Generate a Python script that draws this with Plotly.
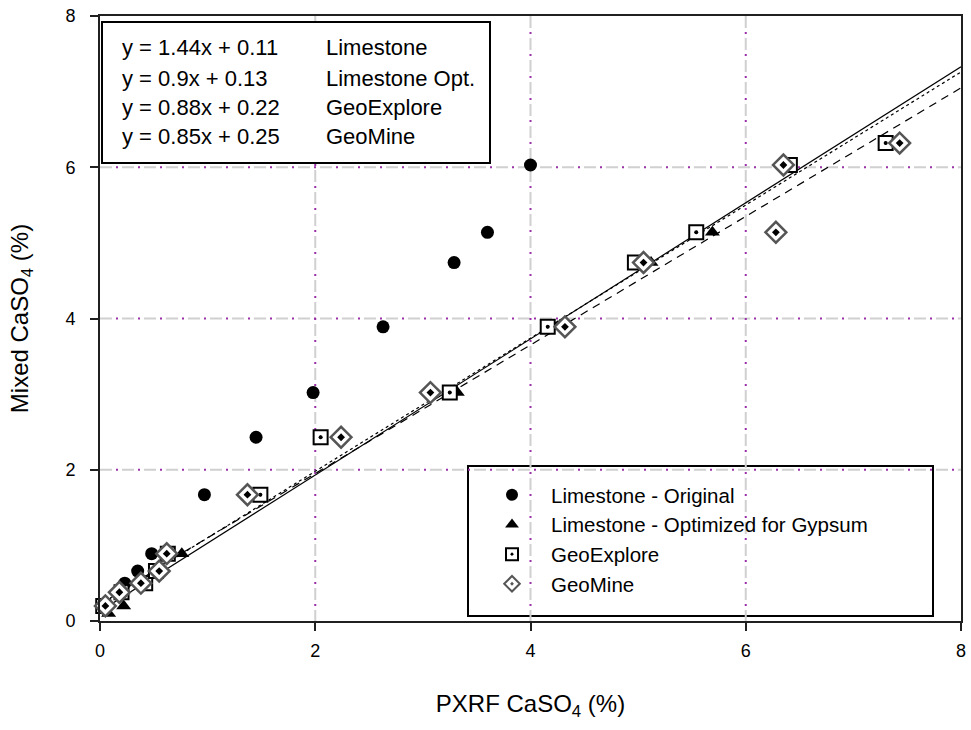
import plotly.graph_objects as go

# ---------------- data ----------------
lime_orig_x = [0.02, 0.23, 0.35, 0.48, 0.97, 1.45, 1.98, 2.63, 3.29, 3.60, 4.00]
lime_orig_y = [0.20, 0.50, 0.66, 0.89, 1.67, 2.43, 3.02, 3.89, 4.74, 5.14, 6.03]

lime_opt_x = [0.08, 0.22, 0.76, 3.32, 4.25, 5.12, 5.69]
lime_opt_y = [0.10, 0.20, 0.89, 3.02, 3.89, 4.74, 5.14]

geoexp_x = [0.03, 0.20, 0.42, 0.52, 0.63, 1.49, 2.05, 3.25, 4.16, 4.97, 5.54, 6.41, 7.30]
geoexp_y = [0.20, 0.38, 0.50, 0.66, 0.89, 1.67, 2.43, 3.02, 3.89, 4.74, 5.14, 6.03, 6.32]

geomine_x = [0.05, 0.18, 0.38, 0.55, 0.62, 1.37, 2.24, 3.07, 4.32, 5.05, 6.28, 6.35, 7.43]
geomine_y = [0.20, 0.38, 0.50, 0.66, 0.89, 1.67, 2.43, 3.02, 3.89, 4.74, 5.14, 6.03, 6.32]

# regression lines (slope, intercept) as given in the equation box
fit_names = ["Limestone", "Limestone Opt.", "GeoExplore", "GeoMine"]
fit_slopes = [1.44, 0.9, 0.88, 0.85]
fit_intercepts = [0.11, 0.13, 0.22, 0.25]
fit_labels = ["y = 1.44x + 0.11", "y = 0.9x + 0.13", "y = 0.88x + 0.22", "y = 0.85x + 0.25"]
line_x = [0, 8]

tick_vals = [0, 2, 4, 6, 8]

FONT = "Arial, 'Liberation Sans', sans-serif"

fig = go.Figure()

# regression lines (Limestone original fit is not drawn in the chart)
line_styles = {1: "solid", 2: "dot", 3: "8px,6px"}
for i, dash in line_styles.items():
    fig.add_trace(go.Scatter(
        x=line_x, y=[fit_slopes[i] * v + fit_intercepts[i] for v in line_x],
        mode="lines", line=dict(color="black", width=1.2, dash=dash),
        showlegend=False, hoverinfo="skip"))

fig.add_trace(go.Scatter(
    x=lime_orig_x, y=lime_orig_y, mode="markers", name="Limestone - Original",
    marker=dict(symbol="circle", size=13, color="black"), cliponaxis=False))
fig.add_trace(go.Scatter(
    x=lime_opt_x, y=lime_opt_y, mode="markers", name="Limestone - Optimized for Gypsum",
    marker=dict(symbol="triangle-up", size=13, color="black"), cliponaxis=False))
fig.add_trace(go.Scatter(
    x=geoexp_x, y=geoexp_y, mode="markers", name="GeoExplore",
    marker=dict(symbol="square-dot", size=14, color="white",
                line=dict(color="black", width=2)), cliponaxis=False))
fig.add_trace(go.Scatter(
    x=geoexp_x, y=geoexp_y, mode="markers", showlegend=False, hoverinfo="skip",
    marker=dict(symbol="circle", size=4, color="black"), cliponaxis=False))
fig.add_trace(go.Scatter(
    x=geomine_x, y=geomine_y, mode="markers", name="GeoMine",
    marker=dict(symbol="diamond-dot", size=16, color="white",
                line=dict(color="#555555", width=2.5)), cliponaxis=False))
fig.add_trace(go.Scatter(
    x=geomine_x, y=geomine_y, mode="markers", showlegend=False, hoverinfo="skip",
    marker=dict(symbol="diamond", size=6, color="black"), cliponaxis=False))

# gridlines: grey dashes with purple dots in the gaps
shapes = []
for v in [2, 4, 6]:
    for color, dash, w in [("#d0d0d0", "12px,10px", 2), ("#9a2fa8", "0px,16px,2px,4px", 2)]:
        shapes.append(dict(type="line", xref="x", yref="y", x0=0, x1=8, y0=v, y1=v,
                           line=dict(color=color, width=w, dash=dash), layer="below"))
        shapes.append(dict(type="line", xref="x", yref="y", x0=v, x1=v, y0=8, y1=0,
                           line=dict(color=color, width=w, dash=dash), layer="below"))

# equation box
shapes.append(dict(type="rect", xref="paper", yref="paper",
                   x0=(102 - 100) / 861, x1=(490 - 100) / 861,
                   y0=(621 - 163) / 605, y1=(621 - 22) / 605,
                   line=dict(color="black", width=2), fillcolor="white", layer="above"))
# legend frame
shapes.append(dict(type="rect", xref="paper", yref="paper",
                   x0=(468 - 100) / 861, x1=(933 - 100) / 861,
                   y0=(621 - 616) / 605, y1=(621 - 466) / 605,
                   line=dict(color="black", width=2), fillcolor="white", layer="below"))

annotations = []
rows_y = [48, 78, 107, 136]
for lab, nm, py in zip(fit_labels, fit_names, rows_y):
    annotations.append(dict(xref="paper", yref="paper", x=(120 - 100) / 861, y=(621 - py) / 605,
                            text=lab, showarrow=False, xanchor="left", yanchor="middle",
                            font=dict(family=FONT, size=22, color="black")))
    annotations.append(dict(xref="paper", yref="paper", x=(324 - 100) / 861, y=(621 - py) / 605,
                            text=nm, showarrow=False, xanchor="left", yanchor="middle",
                            font=dict(family=FONT, size=22, color="black")))

axis_common = dict(range=[0, 8], tickvals=tick_vals, showgrid=False, zeroline=False,
                   showline=True, linecolor="#202020", linewidth=2, mirror=True,
                   ticks="outside", ticklen=8, tickwidth=2, tickcolor="#202020",
                   automargin=False,
                   tickfont=dict(family=FONT, size=18, color="black"))

fig.update_layout(
    width=971, height=730,
    margin=dict(l=100, r=10, t=16, b=109),
    paper_bgcolor="white", plot_bgcolor="white",
    xaxis=dict(**axis_common, ticklabelstandoff=4,
               title=dict(text="PXRF CaSO<sub>4</sub> (%)", standoff=36,
                          font=dict(family=FONT, size=24, color="black"))),
    yaxis=dict(**axis_common, ticklabelstandoff=11,
               title=dict(text="Mixed CaSO<sub>4</sub> (%)", standoff=30,
                          font=dict(family=FONT, size=24, color="black"))),
    shapes=shapes, annotations=annotations,
    legend=dict(x=(473 - 100) / 861, y=(621 - 475) / 605, xanchor="left", yanchor="top",
                bgcolor="rgba(0,0,0,0)", borderwidth=0, itemwidth=68,
                font=dict(family=FONT, size=20.5, color="black"),
                itemsizing="constant"),
    showlegend=True,
)

fig.write_html("out.html")
